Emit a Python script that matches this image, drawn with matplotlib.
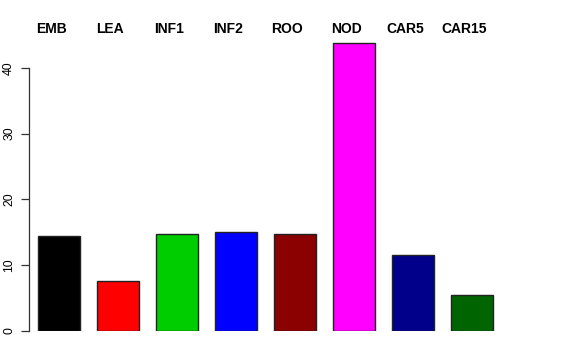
import matplotlib
matplotlib.use("Agg")
import matplotlib.pyplot as plt
from matplotlib.transforms import blended_transform_factory

# tissue groups and their values
tissues = ["EMB", "LEA", "INF1", "INF2", "ROO", "NOD", "CAR5", "CAR15"]
values = [14.4, 7.6, 14.7, 15.1, 14.7, 43.7, 11.6, 5.5]
colors = ["black", "red", "#00CD00", "blue", "#8B0000", "magenta", "#00008B", "#006400"]

plt.rcParams['font.family'] = ['Liberation Sans', 'DejaVu Sans']

fig = plt.figure(figsize=(5.76, 3.6), dpi=100)
# axes placed in pixels to mimic the R plot region
left_px, right_px = 29, 520
bottom_px, top_px = 331, 35
ax = fig.add_axes([left_px / 576, (360 - bottom_px) / 360,
                   (right_px - left_px) / 576, (bottom_px - top_px) / 360])

step_px = 59.0
first_center_px = 59.3
x = list(range(len(tissues)))
ax.bar(x, values, width=42 / step_px, color=colors, edgecolor="#222222", linewidth=1.0)

ax.set_xlim((left_px - first_center_px) / step_px, (right_px - first_center_px) / step_px)
ax.set_ylim(0, (bottom_px - top_px) / 6.58)

# bold group names along the top
trans = blended_transform_factory(ax.transData, fig.transFigure)
for i, name in enumerate(tissues):
    ax.text(i - 8 / step_px, (360 - 29) / 360, name, transform=trans,
            ha="center", va="center", fontsize=10, fontweight="bold", clip_on=False)

ax.set_yticks([0, 10, 20, 30, 40])
ax.set_yticklabels(["0", "10", "20", "30", "40"], rotation=90, va="center", fontsize=8.8)
ax.tick_params(axis="y", length=6, width=0.9, pad=4, color="#333333")
ax.set_xticks([])
for side in ["top", "right", "bottom"]:
    ax.spines[side].set_visible(False)
ax.spines["left"].set_bounds(0, 40)
ax.spines["left"].set_color("#333333")
ax.spines["left"].set_linewidth(0.9)

fig.savefig("out.png", dpi=100)
